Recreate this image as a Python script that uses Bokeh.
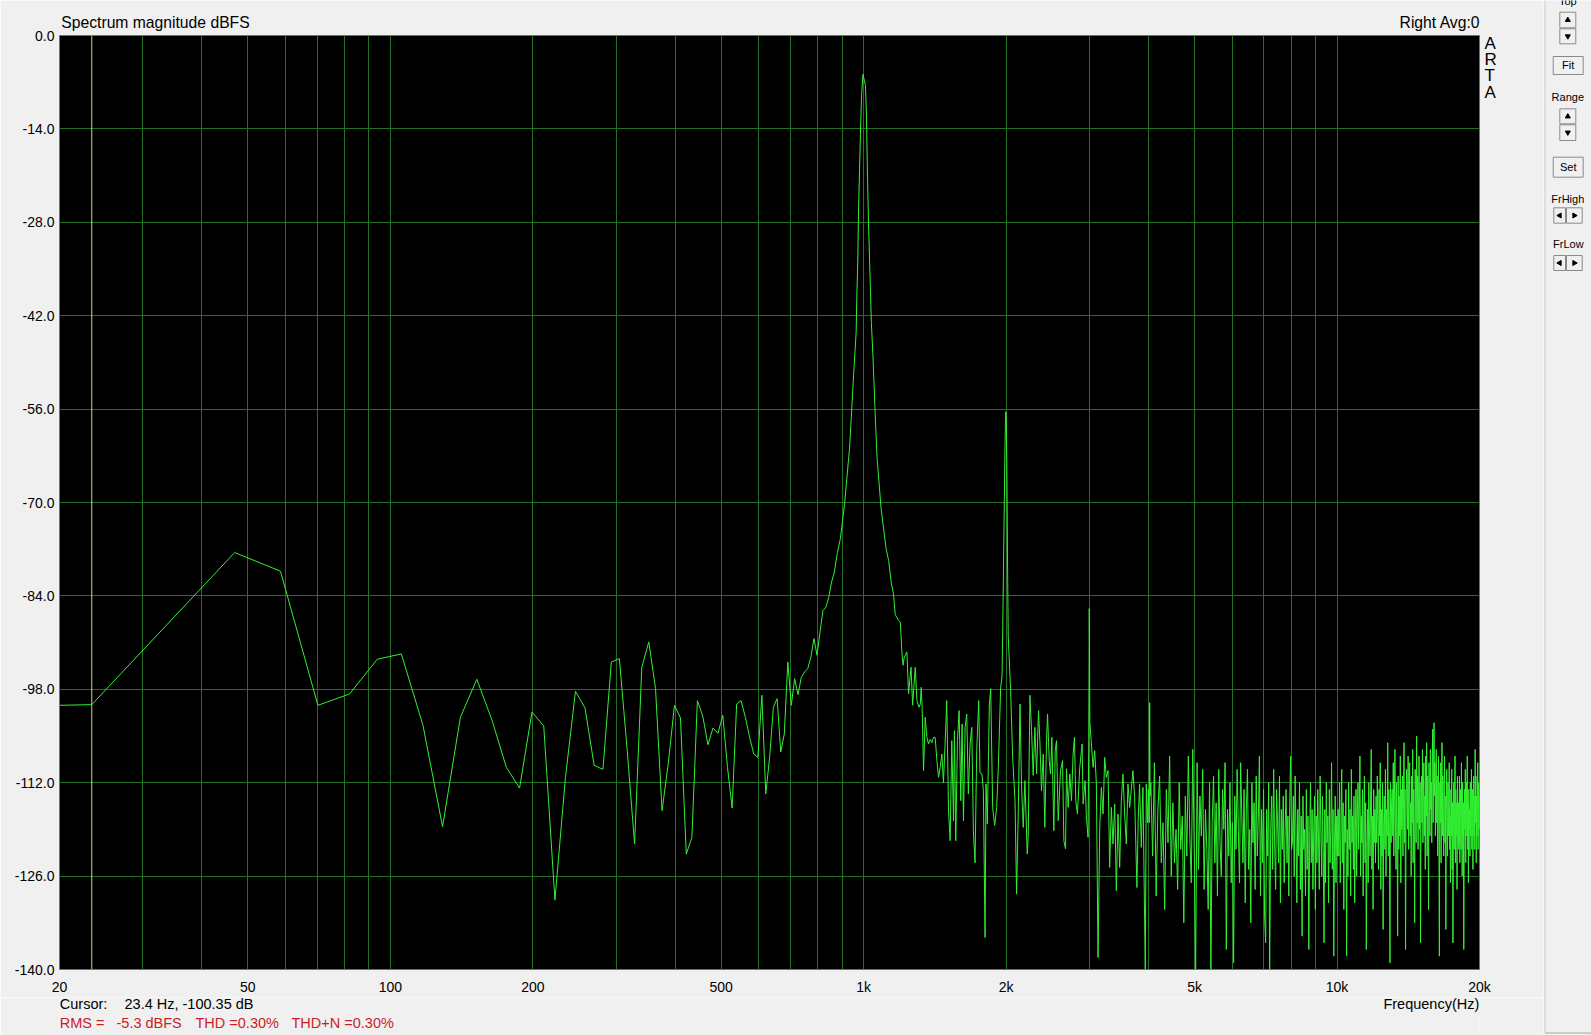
import numpy as np
from bokeh.plotting import figure
from bokeh.models import (Range1d, FixedTicker, PrintfTickFormatter, CustomJSTickFormatter,
                          Span, LogAxis, LinearAxis)
from bokeh.layouts import row, column
from bokeh.embed import file_html
from bokeh.resources import INLINE
from bokeh.core.properties import value

# ---------------- data ----------------
low_hz = [20, 23.4, 46.9, 58.6, 70.3, 82.0, 93.8, 105.5, 117.2, 128.9,
          140.6, 152.3, 164.1, 175.8, 187.5, 199.2, 210.9, 222.7, 234.4, 246.1,
          257.8, 269.5, 281.3, 293.0, 304.7, 316.4, 328.1, 339.8, 351.6, 363.3,
          375.0, 386.7, 398.4, 410.2, 421.9, 433.6, 445.3, 457.0, 468.8, 480.5,
          492.2, 503.9, 515.6, 527.3, 539.1, 550.8, 562.5, 574.2, 585.9, 597.7,
          609.4, 621.1, 632.8, 644.5, 656.3, 668.0, 679.7, 691.4, 703.1, 714.8,
          726.6, 738.3, 750.0, 761.7, 773.4, 785.2, 796.9, 808.6, 820.3, 832.0,
          843.8, 855.5, 867.2]
low_db = [-100.4, -100.3, -77.5, -80.3, -100.4, -98.7, -93.5, -92.7, -103.4, -118.6,
          -102.2, -96.5, -102.7, -109.7, -112.8, -101.4, -103.5, -129.6, -111.2, -98.3,
          -100.8, -109.4, -110.0, -93.9, -93.4, -107.0, -121.2, -94.7, -90.9, -97.9,
          -116.2, -109.0, -100.4, -102.3, -122.7, -120.2, -99.7, -102.0, -106.3, -103.8,
          -104.6, -101.9, -109.7, -115.8, -100.2, -99.7, -102.2, -105.2, -107.7, -108.2,
          -98.9, -113.7, -108.2, -100.7, -99.4, -107.4, -104.7, -93.9, -100.4, -96.4,
          -98.8, -96.2, -95.4, -94.9, -93.2, -90.4, -92.9, -89.4, -86.2, -85.7,
          -84.2, -81.9, -80.4]

# 1 kHz fundamental
peak_hz = [880, 893, 911, 934, 952, 959, 964, 967, 972, 975,
           980, 985, 990, 996.6, 1003, 1009, 1014, 1019, 1024, 1029,
           1033.5, 1038, 1046, 1056, 1067, 1088, 1115, 1129, 1144, 1156,
           1166, 1185, 1195, 1205, 1211, 1218, 1234, 1244, 1259, 1269,
           1285, 1296, 1309, 1317]
peak_db = [-77.5, -75.4, -70.3, -61.7, -51.0, -47.2, -44.5, -39.4, -33.5, -26.7,
           -20.2, -14.0, -8.7, -5.8, -6.7, -7.5, -12.5, -21.5, -28.2, -33.5,
           -38.2, -43.0, -48.0, -55.6, -63.2, -70.8, -76.9, -78.7, -82.1, -83.7,
           -86.8, -87.7, -87.9, -92.7, -94.4, -93.2, -92.4, -98.7, -94.7, -100.4,
           -94.7, -99.7, -100.7, -100.2]

# 1.3 kHz .. 2 kHz
mid1_hz = [1323, 1329, 1338, 1349, 1360, 1371, 1382, 1393, 1405, 1416,
           1428, 1439, 1451, 1463, 1474, 1486, 1498, 1511, 1523, 1535,
           1548, 1555, 1565, 1578, 1591, 1604, 1614, 1625, 1638, 1651,
           1664, 1678, 1692, 1705, 1719, 1733, 1750, 1761, 1778, 1790,
           1805, 1813, 1825, 1843, 1855, 1873, 1891, 1910, 1925, 1947, 1960]
mid1_db = [-97.7, -100.7, -110.2, -102.2, -105.2, -106.2, -105.5, -106.0, -105.2, -105.2,
           -108.7, -111.2, -109.7, -107.7, -112.0, -106.2, -99.7, -116.2, -120.7, -105.7,
           -117.7, -104.2, -120.7, -105.7, -101.2, -114.7, -103.2, -117.7, -103.7, -101.7,
           -113.7, -106.2, -103.7, -119.2, -124.0, -107.2, -99.7, -110.5, -110.7, -113.2,
           -135.2, -112.2, -118.2, -100.2, -97.9, -115.7, -118.4, -115.7, -109.7, -97.7, -96.2]

# 2nd harmonic
h2_hz = [1966, 1974, 1982, 1989, 1994, 1997, 2001, 2007, 2013, 2020]
h2_db = [-90, -80, -70, -61, -57, -56.4, -57.5, -65, -78, -90]

# 2 kHz .. 3 kHz
mid2_hz = [2044, 2064, 2088, 2104, 2121, 2139, 2156, 2173, 2191, 2216,
           2227, 2245, 2263, 2281, 2300, 2319, 2341, 2356, 2375, 2395,
           2414, 2434, 2446, 2466, 2482, 2498, 2522, 2539, 2555, 2576,
           2588, 2605, 2631, 2648, 2670, 2682, 2704, 2726, 2748, 2770,
           2788, 2806, 2829, 2861, 2894, 2908, 2936, 2955, 2979]
mid2_db = [-98.2, -108.2, -114.7, -128.7, -116.7, -100.2, -112.7, -118.7, -111.7, -122.7,
           -119.7, -98.9, -104.2, -110.9, -103.7, -110.7, -101.2, -105.7, -113.2, -107.7,
           -118.7, -105.7, -101.7, -108.7, -110.7, -105.2, -119.2, -107.2, -105.7, -117.7,
           -114.7, -110.2, -108.7, -120.7, -121.9, -109.9, -115.7, -110.7, -114.7, -107.7,
           -105.2, -114.7, -116.7, -109.7, -106.2, -115.2, -111.7, -117.2, -120.2]

# 3rd harmonic
h3_hz = [2989, 2993, 2996, 3000, 3005]
h3_db = [-105.7, -97, -85.9, -92, -103]

# 3 kHz .. 4 kHz (incl. 4th harmonic)
mid3_hz = [3025, 3052, 3077, 3102, 3127, 3153, 3178, 3204, 3230, 3256,
           3283, 3309, 3336, 3363, 3391, 3418, 3446, 3474, 3502, 3530,
           3559, 3588, 3617, 3647, 3706, 3736, 3778, 3803, 3828, 3859,
           3890, 3922, 3935, 3954, 3975, 3995, 4012, 4020, 4028]
mid3_db = [-105.7, -109.7, -107.2, -112.2, -138.2, -118.7, -112.7, -116.7, -108.2, -111.2,
           -110.2, -124.7, -115.7, -121.2, -115.2, -128.2, -116.7, -124.7, -114.7, -110.7,
           -116.7, -121.2, -112.2, -115.7, -110.2, -114.2, -127.7, -117.2, -112.2, -121.7,
           -112.7, -132.2, -140, -112.2, -118, -113, -118, -100, -114]

# dense noise floor above 4 kHz: every 3rd FFT bin (bin width 48000/4096 Hz)
bin_width_hz = 48000 / 4096
noise_first_bin = 345
noise_bin_step = 3
noise_db = [
    # ~4-5 kHz
    -112, -123, -109, -129, -116, -111, -124, -118, -131, -113, -121, -108, -126, -115, -124,
    -119, -128, -112, -122, -117, -133, -114, -123, -108, -120, -127, -107, -122, -140,
    # ~5-6 kHz
    -109, -125, -114, -120, -110, -128, -116, -122, -131, -112, -140, -118, -111, -124, -115,
    -129, -110, -121, -126, -113, -119, -109, -137, -116, -123, -112, -127, -118,
    # ~6-7 kHz
    -139, -114, -122, -110, -119, -127, -109, -117, -124, -113, -130, -116, -110, -125, -119,
    -133, -112, -121, -115, -128, -111, -123, -117, -108, -129, -116, -124, -113, -132,
    # ~7-8 kHz
    -136, -116, -123, -112, -140, -119, -114, -125, -110, -121, -128, -113, -118, -124, -111,
    -130, -116, -122, -114, -127, -119, -113, -124, -117, -129, -115, -108, -122,
    # ~8-9 kHz
    -121, -114, -126, -111, -119, -130, -116, -123, -112, -128, -117, -135, -114, -122, -119,
    -129, -113, -125, -117, -137, -121, -112, -124, -116, -128, -119, -114, -131,
    # ~9-10 kHz
    -117, -124, -113, -121, -128, -111, -119, -126, -114, -122, -136, -116, -127, -112, -121,
    -117, -130, -113, -124, -119, -109, -125, -116, -138, -121, -114, -127, -117, -123,
    # ~10-11 kHz
    -116, -123, -112, -127, -119, -110, -124, -115, -131, -117, -121, -113, -138, -119, -126,
    -112, -122, -116, -129, -110, -121, -117, -125, -114, -130, -119, -113, -126, -117,
    # ~11-12 kHz
    -112, -122, -116, -108, -126, -117, -121, -113, -129, -119, -111, -124, -115, -137, -121,
    -116, -127, -112, -119, -123, -114, -107, -125, -117, -131, -113, -121, -116, -124,
    # ~12-13 kHz
    -114, -121, -111, -118, -125, -113, -120, -109, -128, -116, -123, -112, -134, -118, -114,
    -122, -110, -126, -116, -120, -106, -123, -113, -119, -139, -112, -121, -115,
    # ~13-14 kHz
    -113, -120, -109, -123, -115, -107, -119, -125, -112, -118, -135, -111, -122, -114, -120,
    -108, -127, -113, -119, -111, -123, -116, -106, -121, -113, -137, -118, -110,
    # ~14-15 kHz
    -112, -119, -108, -122, -114, -109, -120, -115, -126, -111, -118, -107, -124, -113, -119,
    -133, -110, -116, -121, -105, -118, -111, -122, -114, -108, -119, -112, -136, -115,
    # ~15-16 kHz
    -111, -118, -107, -121, -113, -109, -120, -114, -125, -108, -117, -106, -123, -111, -118,
    -131, -109, -115, -120, -107, -116, -112, -121, -109, -104, -118, -111, -103,
    # ~16-17 kHz
    -114, -109, -120, -112, -107, -118, -111, -123, -115, -108, -121, -138, -112, -118, -109,
    -124, -114, -106, -120, -111, -116, -123, -112, -108, -121, -114, -134, -117, -110,
    # ~17-18 kHz
    -116, -123, -112, -120, -115, -109, -122, -117, -127, -113, -120, -110, -125, -115, -136,
    -118, -112, -122, -116, -108, -124, -113, -120, -115, -128, -111, -118, -122,
    # ~18-19 kHz
    -115, -121, -111, -124, -117, -113, -122, -109, -119, -126, -112, -120, -115, -137, -122,
    -113, -119, -110, -124, -116, -112, -120, -108, -122, -115, -127, -113, -119,
    # ~19-20 kHz
    -116, -123, -112, -120, -115, -110, -122, -118, -113, -125, -116, -111, -120, -114, -122,
    -107, -118, -111, -124, -114, -120, -115, -109, -122, -116, -112, -119, -114,
]
noise_hz = [(noise_first_bin + noise_bin_step * i) * bin_width_hz for i in range(len(noise_db))]

# cursor readout / measurement results
cursor_hz = 23.4
cursor_db = -100.35
rms_dbfs = -5.3
thd_pct = 0.30
thdn_pct = 0.30

# axes
y_ticks = [0, -14, -28, -42, -56, -70, -84, -98, -112, -126, -140]
x_ticks = [20, 50, 100, 200, 500, 1000, 2000, 5000, 10000, 20000]
x_grid = [20, 30, 40, 50, 60, 70, 80, 90,
          100, 200, 300, 400, 500, 600, 700, 800, 900,
          1000, 2000, 3000, 4000, 5000, 6000, 7000, 8000, 9000,
          10000, 20000]

hz = low_hz + peak_hz + mid1_hz + h2_hz + mid2_hz + h3_hz + mid3_hz + noise_hz
db = low_db + peak_db + mid1_db + h2_db + mid2_db + h3_db + mid3_db + noise_db

# ---------------- styling ----------------
FONT = "Liberation Sans"
BG = "#f0f0f0"
GRID = "#247024"
TRACE = "#33f033"
RED = "#c81e28"

# ---------------- main plot ----------------
MAIN_W, MAIN_H = 1543, 997
FRAME_L, FRAME_R = 59, 1479
p = figure(width=MAIN_W, height=MAIN_H, x_axis_type="log",
           x_range=Range1d(20, 20000), y_range=Range1d(-140, 0),
           output_backend="svg", toolbar_location=None,
           min_border_left=FRAME_L, min_border_right=MAIN_W - FRAME_R,
           min_border_top=35, min_border_bottom=28)
p.background_fill_color = "black"
p.border_fill_color = BG
p.outline_line_color = "#2f9f2f"
p.outline_line_width = 1

def plain_axis(ax, size="14px"):
    ax.axis_line_color = None
    ax.major_tick_line_color = None
    ax.minor_tick_line_color = None
    ax.major_tick_out = 0
    ax.major_tick_in = 0
    ax.major_label_text_font = FONT
    ax.major_label_text_font_size = size
    ax.major_label_text_color = "black"

for ax in (p.xaxis[0], p.yaxis[0]):
    plain_axis(ax)

p.yaxis.ticker = FixedTicker(ticks=y_ticks)
p.yaxis.formatter = PrintfTickFormatter(format="%.1f")
p.yaxis.major_label_standoff = 5
p.xaxis.ticker = FixedTicker(ticks=x_ticks)
p.xaxis.formatter = CustomJSTickFormatter(
    code="return tick >= 1000 ? (tick / 1000) + 'k' : String(tick);")
p.xaxis.major_label_standoff = 9

p.xgrid.ticker = FixedTicker(ticks=x_grid)
p.ygrid.ticker = FixedTicker(ticks=y_ticks)
p.grid.grid_line_color = GRID
p.grid.grid_line_alpha = 1.0
p.grid.grid_line_width = 1

# header texts above the frame (placed by an extra axis)
head_texts = ["Spectrum magnitude dBFS", "Right Avg:0"]
head_at_hz = [31.9, 16500]
top_ax = LogAxis(ticker=FixedTicker(ticks=head_at_hz),
                 formatter=CustomJSTickFormatter(
                     args=dict(t=head_texts), code="return t[index];"))
plain_axis(top_ax, size="15.7px")
top_ax.major_label_standoff = 5
p.add_layout(top_ax, "above")

# "ARTA" logo letters to the right of the frame (placed by an extra axis)
logo_letters = ["A", "R", "T", "A"]
logo_at_db = [-1.2, -3.67, -6.07, -8.47]
logo_ax = LinearAxis(ticker=FixedTicker(ticks=logo_at_db),
                     formatter=CustomJSTickFormatter(
                         args=dict(t=logo_letters), code="return t[index];"))
plain_axis(logo_ax, size="17px")
logo_ax.major_label_standoff = 5
p.add_layout(logo_ax, "right")

p.add_layout(Span(location=cursor_hz, dimension="height",
                  line_color="#d6d47c", line_width=1, level="underlay"))

p.line(hz, db, line_color=TRACE, line_width=1)

# ---------------- status lines below (frame aligned with the main frame) ----------------
BOT_H = 1035 - MAIN_H
b = figure(width=MAIN_W, height=BOT_H, x_range=Range1d(FRAME_L, FRAME_R),
           y_range=Range1d(1035, MAIN_H),
           output_backend="svg", toolbar_location=None,
           min_border_left=FRAME_L, min_border_right=MAIN_W - FRAME_R,
           min_border_top=0, min_border_bottom=0,
           x_axis_location=None, y_axis_location=None)
b.grid.visible = False
b.outline_line_color = None
b.background_fill_color = BG
b.border_fill_color = BG

b.text(x=[59.3, 124], y=[1003, 1003],
       text=["Cursor:", f"{cursor_hz} Hz, {cursor_db} dB"],
       text_font=value(FONT), text_font_size="14.5px", text_color="black",
       text_align="left", text_baseline="middle")
b.text(x=[1478.8], y=[1003], text=["Frequency(Hz)"],
       text_font=value(FONT), text_font_size="14.5px", text_color="black",
       text_align="right", text_baseline="middle")
b.text(x=[59.3, 116, 195, 291], y=[1022.3] * 4,
       text=["RMS =", f"{rms_dbfs} dBFS", f"THD ={thd_pct:.2f}%", f"THD+N ={thdn_pct:.2f}%"],
       text_font=value(FONT), text_font_size="14.5px", text_color=RED,
       text_align="left", text_baseline="middle")

# ---------------- side control panel ----------------
q = figure(width=1591 - MAIN_W, height=1035, x_range=Range1d(MAIN_W, 1591), y_range=Range1d(1035, 0),
           output_backend="svg", toolbar_location=None, min_border=0,
           x_axis_location=None, y_axis_location=None)
q.grid.visible = False
q.outline_line_color = None
q.background_fill_color = BG
q.border_fill_color = BG

q.segment(x0=[1544.5], y0=[0], x1=[1544.5], y1=[1032], line_color="#cdcdcd", line_width=1)
q.segment(x0=[1544.5], y0=[1032.5], x1=[1591], y1=[1032.5], line_color="#a8a8a8", line_width=1)

btn_l = [1559.3, 1559.3, 1552.7, 1559.3, 1559.3, 1552.7, 1553.3, 1566, 1553.3, 1566]
btn_r = [1575.3, 1575.3, 1582.7, 1575.3, 1575.3, 1582.7, 1565, 1581.7, 1565, 1581.7]
btn_t = [11.7, 28.3, 56, 108.3, 124.3, 156.7, 207.3, 207.3, 255, 255]
btn_b = [27.3, 43.3, 74, 123.3, 140, 176.7, 222.7, 222.7, 270, 270]
q.quad(left=btn_l, right=btn_r, top=btn_t, bottom=btn_b,
       fill_color="#f0f0f0", line_color="#8a8a8a", line_width=1)

q.text(x=[1567.3], y=[0.6], text=["Top"],
       text_font=value(FONT), text_font_size="11px", text_color="black",
       text_align="center", text_baseline="alphabetic")
q.text(x=[1567.7, 1567.3, 1567.7, 1567.3, 1567.8], y=[64, 96, 166.5, 198.5, 243.5],
       text=["Fit", "Range", "Set", "FrHigh", "FrLow"],
       text_font=value(FONT), text_font_size="11px", text_color="black",
       text_align="center", text_baseline="middle")

q.scatter(x=[1567.3, 1567.3], y=[19.5, 116], marker="triangle", size=5, color="black")
q.scatter(x=[1567.3, 1567.3], y=[35.8, 132], marker="inverted_triangle", size=5, color="black")
q.scatter(x=[1559.2, 1559.2], y=[215, 262.5], marker="triangle", angle=np.pi / 2, size=5, color="black")
q.scatter(x=[1573.8, 1573.8], y=[215, 262.5], marker="triangle", angle=-np.pi / 2, size=5, color="black")

layout = row(column(p, b), q)
open("out.html", "w").write(file_html(layout, INLINE))
